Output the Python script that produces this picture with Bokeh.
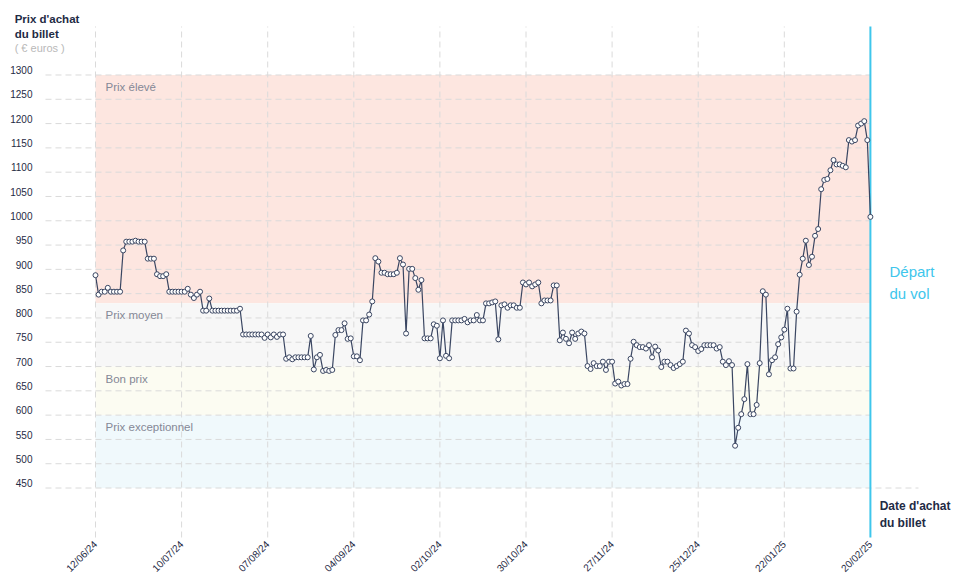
import math
from bokeh.plotting import figure
from bokeh.models import FixedTicker, Label, Range1d
from bokeh.core.properties import value
from bokeh.embed import file_html
from bokeh.resources import INLINE

# ---------------- data ----------------
prices = [
    888, 848, 854, 854, 862, 854, 854, 854, 854,
    939,
    957, 957, 957, 959, 957, 957, 957,
    922, 922, 922,
    890, 886, 886, 890,
    854, 854, 854, 854, 854, 854,
    860, 848, 841, 848, 854,
    815, 815, 840, 815, 815, 815, 815, 815, 815, 815, 815, 815, 819,
    766, 766, 766, 766, 766, 766, 766, 759,
    766, 760, 766, 761, 766, 766,
    716, 719, 715, 719, 719, 719, 719, 719,
    763,
    694, 719, 724, 691, 693, 691, 693,
    765, 775, 775, 789, 757, 758, 721, 721, 713,
    795, 795, 807, 834, 923, 916, 893, 893, 890, 890, 890, 893, 923, 910,
    768,
    901, 901, 882, 858, 878,
    758, 758, 758, 787, 784, 717, 795, 722, 717, 795, 795, 795, 795, 798, 791,
    795, 795, 806, 795, 795,
    830, 830, 832, 834,
    756,
    826, 828, 821, 826, 826, 821, 821,
    873, 869, 873, 865, 869, 873,
    830,
    836, 836, 836,
    867, 867,
    754, 770, 757, 748, 770, 757, 768, 772, 768,
    701, 695, 707, 701, 701, 710, 693, 710, 710,
    665, 669, 661, 664, 664,
    716,
    751, 744, 740, 740, 737, 744, 719, 741, 733,
    699, 710, 710, 703, 697, 701, 705, 710,
    774, 768, 744, 740, 732, 736, 744, 744, 744, 744, 737, 740,
    710, 703, 711, 703,
    537, 574, 602, 633, 705, 602, 602, 621, 707,
    855, 848,
    684, 713, 719, 746,
    760, 776, 819, 696, 696, 813, 889, 922, 959, 909, 926, 969, 983,
    1065, 1084, 1086, 1104, 1125, 1116, 1116, 1113, 1110,
    1166, 1163, 1166, 1196, 1200, 1205, 1166, 1008,
]
day_index = list(range(len(prices)))

tick_index = [0, 28, 56, 84, 112, 140, 168, 196, 224, 252]
tick_labels = ["12/06/24", "10/07/24", "07/08/24", "04/09/24", "02/10/24",
               "30/10/24", "27/11/24", "25/12/24", "22/01/25", "20/02/25"]
departure_index = 252

y_ticks = [450, 500, 550, 600, 650, 700, 750, 800, 850, 900,
           950, 1000, 1050, 1100, 1150, 1200, 1250, 1300]

band_names = ["Prix élevé", "Prix moyen", "Bon prix", "Prix exceptionnel"]
band_low = [830, 700, 600, 450]
band_high = [1300, 830, 700, 600]
band_colors = ["#fde6e0", "#f7f7f7", "#fcfcf2", "#f0f9fc"]

# ---------------- style ----------------
NAVY = "#1f2b45"
LINE = "#3a4662"
CYAN = "#3ec6ec"
GRID = "#dadada"
FONT = "Liberation Sans"

W, H = 958, 585
# canvas-wide ranges (frame = whole canvas)
X0, X1 = -30.894, 280.65
Y0, Y1 = 249.4, 1453.3
# visible "plot area" edges
PL, PR = -16.26, 267.64
PB, PT = 348.2, 1399.8
LABEL_SHIFT = 10.0  # y labels sit just above their grid line

p = figure(width=W, height=H, output_backend="svg", toolbar_location=None,
           x_range=Range1d(X0, X1), y_range=Range1d(Y0, Y1),
           min_border=0, title=None)
p.outline_line_color = None
p.background_fill_color = "white"
p.border_fill_color = "white"
p.xgrid.visible = False
p.ygrid.visible = False

# bands
p.quad(left=[0] * len(band_low), right=[departure_index] * len(band_low),
       bottom=band_low, top=band_high, fill_color=band_colors,
       line_color=None)

# grid lines (dashed), vertical ones over full plot height
vt = tick_index[:-1]
p.segment(x0=vt, x1=vt, y0=[PB] * len(vt), y1=[PT] * len(vt),
          line_color=GRID, line_dash="6 4", line_width=1)
h_end = [PR if t == y_ticks[0] else departure_index for t in y_ticks]
p.segment(x0=[PL] * len(y_ticks), x1=h_end, y0=y_ticks, y1=y_ticks,
          line_color=GRID, line_dash="6 4", line_width=1)

# band labels
p.text(x=[0] * len(band_names), y=band_high, text=band_names,
       x_offset=10, y_offset=6, text_baseline="top", text_align="left",
       text_font=value(FONT), text_font_size="11.5px", text_color="#858896")

# departure line
p.segment(x0=[departure_index], x1=[departure_index], y0=[PB], y1=[PT],
          line_color=CYAN, line_width=2)

# series
p.line(day_index, prices, line_color=LINE, line_width=1.2)
p.scatter(day_index, prices, size=5, marker="circle", fill_color="white",
          line_color=LINE, line_width=1)

# axes (fixed inside the canvas)
p.extra_y_ranges = {"labels": Range1d(Y0 - LABEL_SHIFT, Y1 - LABEL_SHIFT)}
yax = p.yaxis[0]
yax.y_range_name = "labels"
yax.fixed_location = PL
yax.ticker = FixedTicker(ticks=y_ticks)
yax.axis_line_color = None
yax.major_tick_line_color = None
yax.minor_tick_line_color = None
yax.major_tick_out = 0
yax.major_tick_in = 0
yax.major_label_standoff = 13
yax.major_label_text_font = FONT
yax.major_label_text_font_size = "10px"
yax.major_label_text_color = NAVY

xax = p.xaxis[0]
xax.fixed_location = PB
xax.ticker = FixedTicker(ticks=tick_index)
xax.major_label_overrides = {t: l for t, l in zip(tick_index, tick_labels)}
xax.major_label_orientation = math.pi / 4
xax.axis_line_color = None
xax.major_tick_line_color = None
xax.minor_tick_line_color = None
xax.major_tick_out = 0
xax.major_tick_in = 0
xax.major_label_standoff = 5
xax.major_label_text_font = FONT
xax.major_label_text_font_size = "10px"
xax.major_label_text_color = NAVY

# titles / annotations
p.add_layout(Label(x=-26.3, y=1428.6, text="Prix d'achat\ndu billet",
                   text_baseline="top", text_align="left",
                   text_font=FONT, text_font_style="bold",
                   text_font_size="11.5px", text_color=NAVY,
                   text_line_height=1.25))
p.add_layout(Label(x=-26.3, y=1355.6, text="( € euros )",
                   text_baseline="middle", text_align="left",
                   text_font=FONT, text_font_size="11px", text_color="#b9b9b9"))
p.add_layout(Label(x=255.0, y=428.4, text="Date d'achat\ndu billet",
                   text_baseline="top", text_align="left",
                   text_font=FONT, text_font_style="bold",
                   text_font_size="12px", text_color=NAVY,
                   text_line_height=1.25))
p.add_layout(Label(x=258.2, y=914.1, text="Départ\ndu vol",
                   text_baseline="top", text_align="left",
                   text_font=FONT, text_font_size="15px", text_color=CYAN,
                   text_line_height=1.35))

open("out.html", "w").write(file_html(p, INLINE))
